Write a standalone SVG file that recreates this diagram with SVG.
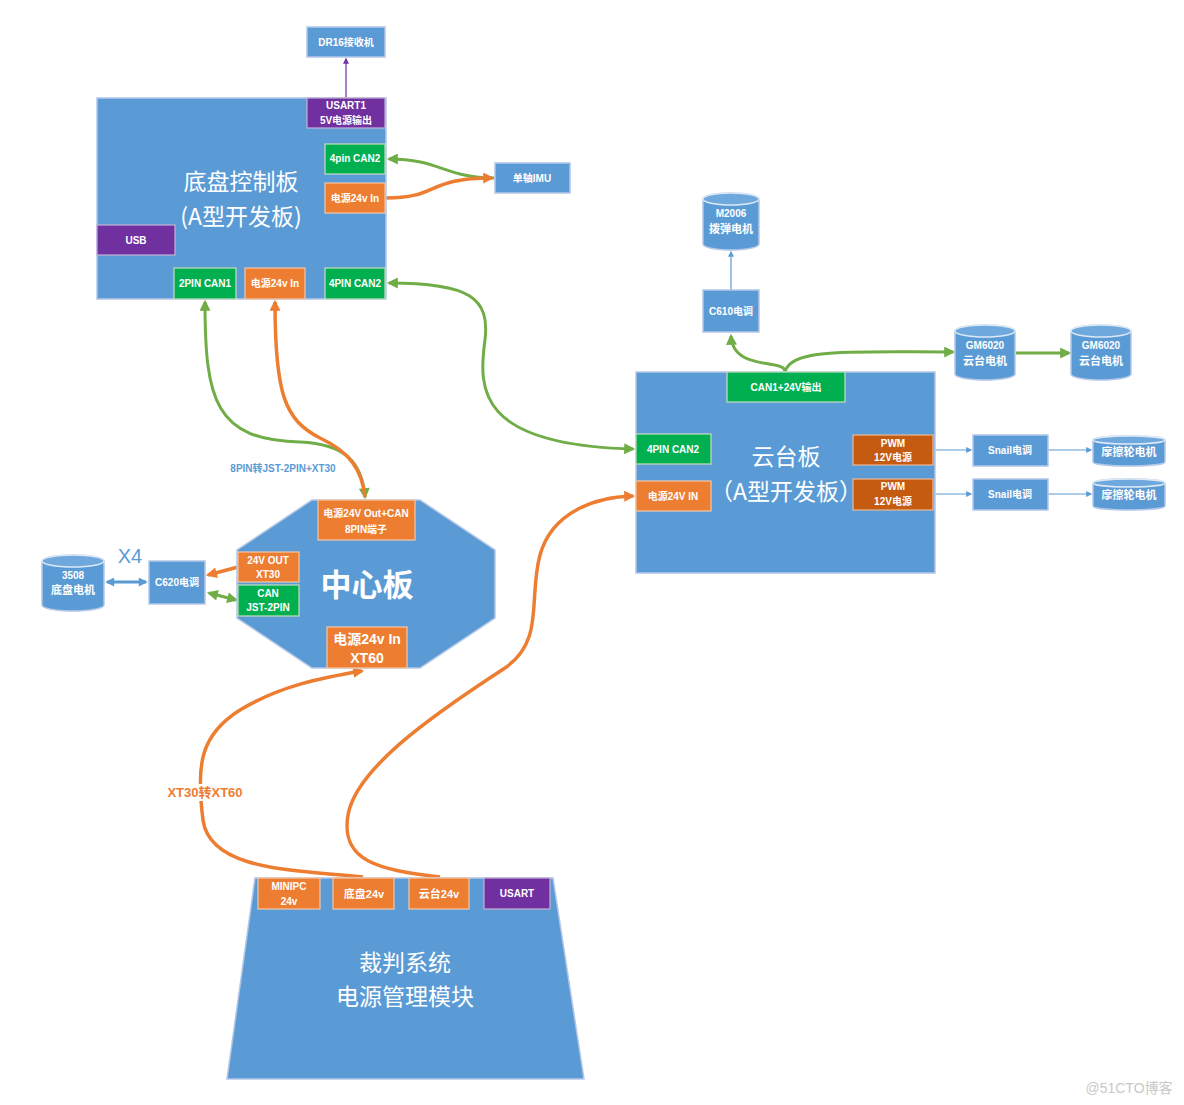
<svg xmlns="http://www.w3.org/2000/svg" width="1184" height="1105" viewBox="0 0 1184 1105">
<defs>
<style>
.blk{fill:#5B9BD5;stroke:#B4C7E7;stroke-width:1.5}
.grn{fill:#00B050;stroke:#C9DDC0;stroke-width:1.2}
.org{fill:#ED7D31;stroke:#F4C7A8;stroke-width:1.2}
.dor{fill:#C55A11;stroke:#E9B99A;stroke-width:1.2}
.pur{fill:#7030A0;stroke:#C4B1D6;stroke-width:1.2}
.cyl{fill:#5B9BD5;stroke:#B4C7E7;stroke-width:1.5}
.cyt{fill:#6FA8DC;stroke:#DDE9F6;stroke-width:1.5}
text{font-family:"Liberation Sans","Noto Sans CJK SC",sans-serif;fill:#fff;text-anchor:middle}
.s{font-size:10px;font-weight:bold}
.m{font-size:11px;font-weight:bold}
.l{font-size:14px;font-weight:bold}
.t{font-size:23px;font-family:"Noto Sans CJK SC",sans-serif}
.cg{fill:none;stroke:#70AD47;stroke-width:3}
.co{fill:none;stroke:#ED7D31;stroke-width:3.5}
.cb{fill:none;stroke:#5B9BD5;stroke-width:1.2}
.cp{fill:none;stroke:#7030A0;stroke-width:1.2}
</style>
<marker id="ag" viewBox="0 0 10 10" refX="8" refY="5" markerWidth="13" markerHeight="11" markerUnits="userSpaceOnUse" orient="auto-start-reverse"><path d="M0,0 L10,5 L0,10 z" fill="#70AD47"/></marker>
<marker id="ao" viewBox="0 0 10 10" refX="8" refY="5" markerWidth="13" markerHeight="11" markerUnits="userSpaceOnUse" orient="auto-start-reverse"><path d="M0,0 L10,5 L0,10 z" fill="#ED7D31"/></marker>
<marker id="ab" viewBox="0 0 10 10" refX="8" refY="5" markerWidth="7" markerHeight="6" markerUnits="userSpaceOnUse" orient="auto-start-reverse"><path d="M0,0 L10,5 L0,10 z" fill="#5B9BD5"/></marker>
<marker id="ab2" viewBox="0 0 10 10" refX="8" refY="5" markerWidth="10" markerHeight="9" markerUnits="userSpaceOnUse" orient="auto-start-reverse"><path d="M0,0 L10,5 L0,10 z" fill="#5B9BD5"/></marker>
<marker id="ap" viewBox="0 0 10 10" refX="8" refY="5" markerWidth="7" markerHeight="6" markerUnits="userSpaceOnUse" orient="auto-start-reverse"><path d="M0,0 L10,5 L0,10 z" fill="#7030A0"/></marker>
</defs>
<rect width="1184" height="1105" fill="#fff"/>

<g id="connectors">
<path class="cp" d="M346,98 V59" marker-end="url(#ap)"/>
<path class="cg" d="M494,178 C445,178 440,159 389,159" marker-end="url(#ag)"/>
<path class="co" d="M386,198 C440,198 425,178 492,178" marker-end="url(#ao)"/>
<path class="cg" d="M389,283 C470,283 490,298 485,340 C478,390 478,445 633,449" marker-start="url(#ag)" marker-end="url(#ag)"/>
<path class="cg" d="M205,302 C205,400 215,440 300,442 C345,444 362,462 365,497" marker-start="url(#ag)" marker-end="url(#ag)"/>
<path class="co" d="M275,302 C275,395 285,420 320,438 C350,452 362,470 365,497" marker-start="url(#ao)"/>
<path class="co" d="M238,567 L208,575" marker-end="url(#ao)"/>
<path class="cg" d="M236,600 L209,593" marker-start="url(#ag)" marker-end="url(#ag)"/>
<path d="M107,582 H146" stroke="#5B9BD5" stroke-width="3" fill="none" marker-start="url(#ab2)" marker-end="url(#ab2)"/>
<path class="co" d="M363,877 C300,870 210,872 203,820 C196,765 200,735 240,710 C280,686 320,678 362,671" marker-end="url(#ao)"/>
<path class="co" d="M440,877 C380,870 340,862 348,815 C356,770 425,720 505,668 C545,640 528,600 540,555 C552,512 595,497 633,496" marker-end="url(#ao)"/>
<path class="cg" d="M785,372 C785,358 733,372 731,336" marker-end="url(#ag)"/>
<path class="cg" d="M785,372 C790,348 850,352 953,352" marker-end="url(#ag)"/>
<path class="cg" d="M1016,353 H1069" marker-end="url(#ag)"/>
<path class="cb" d="M731,290 V252" marker-end="url(#ab)"/>
<path class="cb" d="M934,450 H971" marker-end="url(#ab)"/>
<path class="cb" d="M1048,450 H1091" marker-end="url(#ab)"/>
<path class="cb" d="M934,494 H971" marker-end="url(#ab)"/>
<path class="cb" d="M1048,494 H1091" marker-end="url(#ab)"/>
<rect x="163" y="784" width="84" height="17" fill="#fff"/>
<text x="205" y="797" style="font-size:13px;font-weight:bold;fill:#ED7D31">XT30转XT60</text>
<text x="283" y="472" style="font-size:10px;font-weight:bold;fill:#5B9BD5">8PIN转JST-2PIN+XT30</text>
<text x="130" y="563" style="font-size:20px;fill:#5B9BD5">X4</text>
</g>

<g id="dr16"><rect class="blk" x="307" y="27" width="78" height="30"/><text class="s" x="346" y="46">DR16接收机</text></g>
<g id="imu"><rect class="blk" x="495" y="163" width="75" height="30"/><text class="s" x="532" y="182">单轴IMU</text></g>

<g id="chassis-board">
<rect class="blk" x="97" y="98" width="289" height="201"/>
<text class="t" x="241" y="190">底盘控制板</text>
<text class="t" x="241" y="225">(A型开发板)</text>
<rect class="pur" x="307" y="98" width="78" height="30"/><text class="s" x="346" y="109">USART1</text><text class="s" x="346" y="124">5V电源输出</text>
<rect class="grn" x="325" y="144" width="60" height="30"/><text class="s" x="355" y="162">4pin CAN2</text>
<rect class="org" x="325" y="183" width="60" height="30"/><text class="s" x="355" y="202">电源24v In</text>
<rect class="pur" x="97" y="225" width="78" height="30"/><text class="s" x="136" y="244">USB</text>
<rect class="grn" x="174" y="268" width="62" height="31"/><text class="s" x="205" y="287">2PIN CAN1</text>
<rect class="org" x="245" y="268" width="60" height="31"/><text class="s" x="275" y="287">电源24v In</text>
<rect class="grn" x="325" y="268" width="60" height="31"/><text class="s" x="355" y="287">4PIN CAN2</text>
</g>

<g id="motor-3508">
<path class="cyl" d="M42,561 A31,6 0 0 1 104,561 V605 A31,6 0 0 1 42,605 Z"/>
<ellipse class="cyt" cx="73" cy="561" rx="31" ry="6"/>
<text class="s" x="73" y="579">3508</text><text class="m" x="73" y="594">底盘电机</text>
</g>
<g id="c620"><rect class="blk" x="149" y="561" width="56" height="43"/><text class="s" x="177" y="586">C620电调</text></g>

<g id="center-board">
<polygon class="blk" points="312,500 420,500 495,550 495,618 420,668 312,668 237,618 237,550"/>
<text x="367" y="596" style="font-size:31px;font-weight:bold;font-family:'Noto Sans CJK SC',sans-serif">中心板</text>
<rect class="org" x="318" y="500" width="97" height="40"/><text class="s" x="366" y="517">电源24V Out+CAN</text><text class="s" x="366" y="533">8PIN端子</text>
<rect class="org" x="238" y="552" width="61" height="30"/><text class="s" x="268" y="564">24V OUT</text><text class="s" x="268" y="578">XT30</text>
<rect class="grn" x="238" y="585" width="61" height="31"/><text class="s" x="268" y="597">CAN</text><text class="s" x="268" y="611">JST-2PIN</text>
<rect class="org" x="327" y="627" width="80" height="41"/><text class="l" x="367" y="644">电源24v In</text><text class="l" x="367" y="663">XT60</text>
</g>

<g id="m2006">
<path class="cyl" d="M703,199 A28,6 0 0 1 759,199 V244 A28,6 0 0 1 703,244 Z"/>
<ellipse class="cyt" cx="731" cy="199" rx="28" ry="6"/>
<text class="s" x="731" y="217">M2006</text><text class="m" x="731" y="233">拨弹电机</text>
</g>
<g id="c610"><rect class="blk" x="703" y="290" width="56" height="42"/><text class="s" x="731" y="315">C610电调</text></g>

<g id="gm6020-1">
<path class="cyl" d="M955,331 A30,6 0 0 1 1015,331 V374 A30,6 0 0 1 955,374 Z"/>
<ellipse class="cyt" cx="985" cy="331" rx="30" ry="6"/>
<text class="s" x="985" y="349">GM6020</text><text class="m" x="985" y="365">云台电机</text>
</g>
<g id="gm6020-2">
<path class="cyl" d="M1071,331 A30,6 0 0 1 1131,331 V374 A30,6 0 0 1 1071,374 Z"/>
<ellipse class="cyt" cx="1101" cy="331" rx="30" ry="6"/>
<text class="s" x="1101" y="349">GM6020</text><text class="m" x="1101" y="365">云台电机</text>
</g>

<g id="gimbal-board">
<rect class="blk" x="636" y="372" width="299" height="201"/>
<text class="t" x="786" y="465">云台板</text>
<text class="t" x="786" y="500">（A型开发板）</text>
<rect class="grn" x="727" y="372" width="118" height="30"/><text class="s" x="786" y="391">CAN1+24V输出</text>
<rect class="grn" x="636" y="434" width="75" height="30"/><text class="s" x="673" y="453">4PIN CAN2</text>
<rect class="org" x="636" y="481" width="75" height="30"/><text class="s" x="673" y="500">电源24V IN</text>
<rect class="dor" x="853" y="435" width="80" height="30"/><text class="s" x="893" y="447">PWM</text><text class="s" x="893" y="461">12V电源</text>
<rect class="dor" x="853" y="479" width="80" height="31"/><text class="s" x="893" y="490">PWM</text><text class="s" x="893" y="505">12V电源</text>
</g>

<g id="snail-1"><rect class="blk" x="973" y="435" width="75" height="31"/><text class="s" x="1010" y="454">Snail电调</text></g>
<g id="snail-2"><rect class="blk" x="973" y="479" width="75" height="31"/><text class="s" x="1010" y="498">Snail电调</text></g>
<g id="friction-1">
<path class="cyl" d="M1093,440 A36,4 0 0 1 1165,440 V462 A36,4 0 0 1 1093,462 Z"/>
<ellipse class="cyt" cx="1129" cy="440" rx="36" ry="4"/>
<text class="m" x="1129" y="456">摩擦轮电机</text>
</g>
<g id="friction-2">
<path class="cyl" d="M1093,483 A36,4 0 0 1 1165,483 V506 A36,4 0 0 1 1093,506 Z"/>
<ellipse class="cyt" cx="1129" cy="483" rx="36" ry="4"/>
<text class="m" x="1129" y="499">摩擦轮电机</text>
</g>

<g id="referee-system">
<polygon class="blk" points="255,878 553,878 584,1079 227,1079"/>
<text class="t" x="405" y="971">裁判系统</text>
<text class="t" x="405" y="1005">电源管理模块</text>
<rect class="org" x="258" y="878" width="62" height="31"/><text class="s" x="289" y="890">MINIPC</text><text class="s" x="289" y="905">24v</text>
<rect class="org" x="333" y="878" width="61" height="31"/><text class="m" x="364" y="898">底盘24v</text>
<rect class="org" x="409" y="878" width="60" height="31"/><text class="m" x="439" y="898">云台24v</text>
<rect class="pur" x="484" y="878" width="66" height="31"/><text class="s" x="517" y="897">USART</text>
</g>

<text x="1129" y="1093" style="font-size:14px;fill:#C8C8C8;font-family:'Liberation Sans','Noto Sans CJK SC',sans-serif">@51CTO博客</text>
</svg>
